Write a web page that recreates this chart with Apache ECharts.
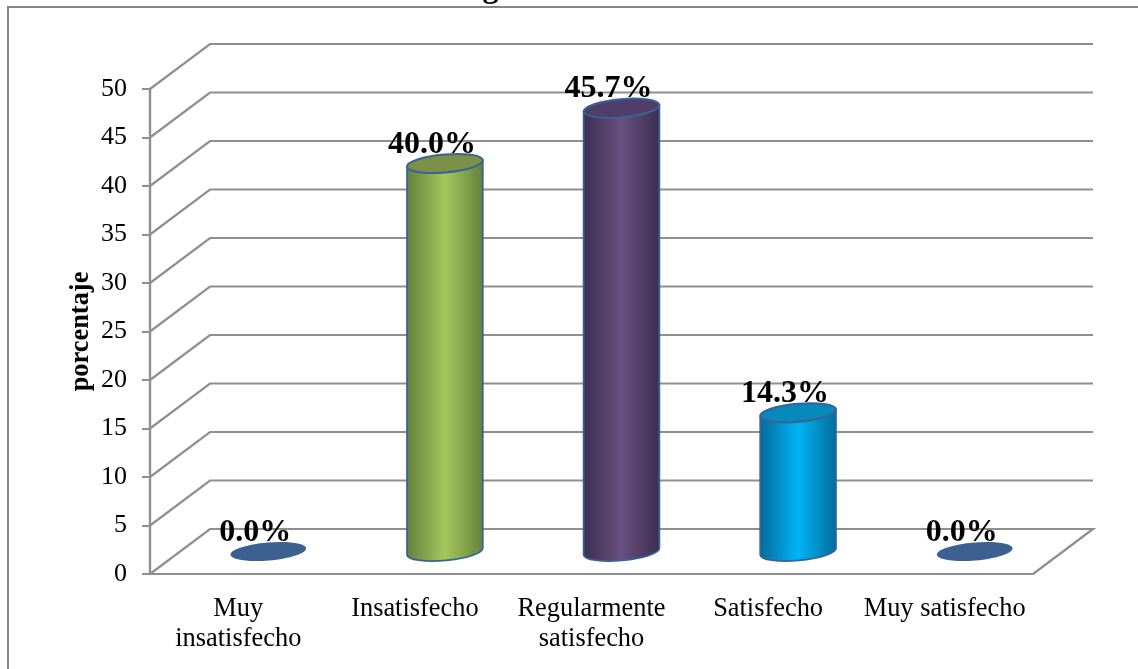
<!DOCTYPE html>
<html>
<head>
<meta charset="utf-8">
<style>html,body{margin:0;padding:0;background:#fff}#chart{width:1138px;height:669px}</style>
<script src="https://cdn.jsdelivr.net/npm/echarts@6/dist/echarts.min.js"></script>
</head>
<body>
<div id="chart"></div>
<script>
// Satisfaction with salaries, drawn as a pseudo-3D cylinder chart.
const categories = ['Muy\ninsatisfecho', 'Insatisfecho', 'Regularmente\nsatisfecho', 'Satisfecho', 'Muy satisfecho'];
const percentages = [0, 40, 45.7, 14.3, 0];
const yTicks = [0, 5, 10, 15, 20, 25, 30, 35, 40, 45, 50];
const bodyColors = [
  ['#3c6090', '#3c6090'],
  ['#62803a', '#a4c85e'],
  ['#3b2d50', '#67507f'],
  ['#046a9c', '#00b4f5'],
  ['#3c6090', '#3c6090']
];
const capColors = ['#3c6090', '#7b9147', '#4f3e67', '#0688bb', '#3c6090'];

const SERIF = '"Liberation Serif", "Times New Roman", serif';
const DEPTH_X = 60, DEPTH_Y = -45;         // offset of the back wall from the front plane
const AXIS_COLOR = '#8f8f8f';
const RX = 38, RY = 9, TILT = -5;          // cylinder cross-section

const chart = echarts.init(document.getElementById('chart'), null, { renderer: 'canvas' });

// Back wall gridlines and the floor outline.
function renderWall(params, api) {
  const cs = params.coordSys;
  const v = api.value(1);
  const y = api.coord([0, v])[1];
  const x0 = cs.x, x1 = cs.x + cs.width;
  const pts = [[x0, y], [x0 + DEPTH_X, y + DEPTH_Y], [x1 + DEPTH_X, y + DEPTH_Y]];
  if (v === 0) pts.push([x1, y]);
  return {
    type: 'polyline',
    shape: { points: pts },
    style: { stroke: AXIS_COLOR, lineWidth: 2.2, fill: null }
  };
}

// One cylinder sits halfway into the depth of the floor.
function renderCylinder(params, api) {
  const i = params.dataIndex;
  const v = api.value(1);
  const base = api.coord([i, 0]);
  const top = api.coord([i, v]);
  const cx = base[0] + DEPTH_X / 2;
  const yBase = base[1] + DEPTH_Y / 2;
  const yTop = top[1] + DEPTH_Y / 2;
  const dy = RX * Math.sin(-TILT * Math.PI / 180);
  const dx = RX * Math.cos(TILT * Math.PI / 180);
  const rotation = -TILT * Math.PI / 180;
  const children = [];
  const edge = '#3a6296';
  const ellipse = (cy, fill, stroke) => ({
    type: 'ellipse',
    x: cx, y: cy, originX: 0, originY: 0, rotation,
    shape: { cx: 0, cy: 0, rx: RX, ry: RY },
    style: { fill, stroke: stroke || null, lineWidth: 2 }
  });
  if (v > 0) {
    const [dark, light] = bodyColors[i];
    children.push({
      type: 'path',
      shape: {
        pathData:
          `M${cx - dx} ${yTop + dy} L${cx - dx} ${yBase + dy} ` +
          `A${RX} ${RY} ${TILT} 0 0 ${cx + dx} ${yBase - dy} ` +
          `L${cx + dx} ${yTop - dy} Z`
      },
      style: {
        stroke: edge, lineWidth: 1.8,
        fill: new echarts.graphic.LinearGradient(0, 0, 1, 0, [
          { offset: 0, color: dark },
          { offset: 0.5, color: light },
          { offset: 1, color: dark }
        ])
      }
    });
    children.push(ellipse(yTop, capColors[i], edge));
  } else {
    children.push(ellipse(yBase, capColors[i]));
  }
  children.push({
    type: 'text',
    style: {
      text: v.toFixed(1) + '%',
      x: cx - 13, y: yTop - 19,
      align: 'center', verticalAlign: 'middle',
      font: 'bold 32px ' + SERIF, fill: '#000'
    }
  });
  return { type: 'group', children };
}

chart.setOption({
  animation: false,
  backgroundColor: '#fff',
  title: {
    text: 'Figura 1: Salarios',
    left: 449, top: -32,
    textStyle: { fontFamily: SERIF, fontWeight: 'bold', fontSize: 32, color: '#000' }
  },
  graphic: [{
    type: 'polyline',
    shape: { points: [[8, 669], [8, 7], [1138, 7]] },
    style: { stroke: '#858585', lineWidth: 2, fill: null },
    silent: true
  }],
  grid: { left: 150, top: 89, width: 883, height: 485 },
  xAxis: {
    type: 'category',
    data: categories,
    axisLine: { show: true, lineStyle: { color: AXIS_COLOR, width: 2.2 } },
    axisTick: { show: false },
    axisLabel: {
      interval: 0, margin: 20, lineHeight: 30,
      fontFamily: SERIF, fontSize: 26.4, color: '#000'
    }
  },
  yAxis: {
    type: 'value',
    min: 0, max: 50, interval: 5,
    name: 'porcentaje',
    nameLocation: 'middle',
    nameMoveOverlap: false,
    nameGap: 56,
    nameRotate: 90,
    nameTextStyle: { fontFamily: SERIF, fontWeight: 'bold', fontSize: 26.4, color: '#000' },
    axisLine: { show: true, lineStyle: { color: AXIS_COLOR, width: 2.4 } },
    axisTick: { show: true, length: 8, lineStyle: { color: AXIS_COLOR, width: 2 } },
    splitLine: { show: false },
    axisLabel: { margin: 23, fontFamily: SERIF, fontSize: 26, color: '#000' }
  },
  series: [
    {
      type: 'custom', name: 'wall', silent: true, z: 1,
      renderItem: renderWall,
      data: yTicks.map(v => [0, v])
    },
    {
      type: 'custom', name: 'porcentaje', silent: true, z: 2,
      renderItem: renderCylinder,
      data: percentages.map((v, i) => [i, v])
    }
  ]
});
</script>
</body>
</html>
